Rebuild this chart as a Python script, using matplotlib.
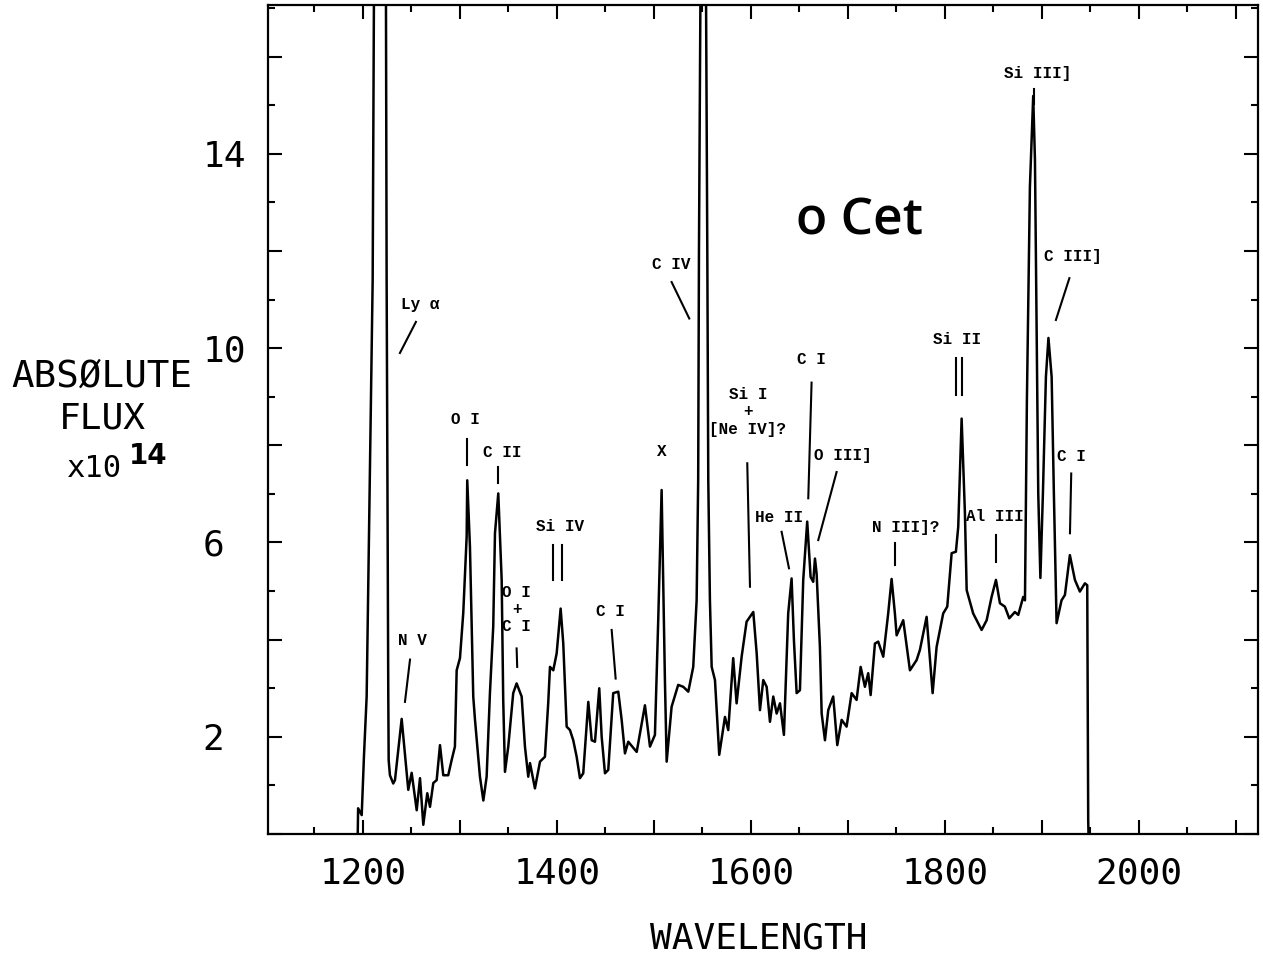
import matplotlib
matplotlib.use("Agg")
import matplotlib.pyplot as plt
from matplotlib.ticker import MultipleLocator, FixedLocator

# IUE spectrum of o Cet (wavelength in Angstrom, flux x 1e14)
wavelength = [1194.6, 1195.0, 1198.7, 1201.0, 1203.8, 1210.0, 1211.3, 1217.0, 1223.7, 1224.4,
              1226.1, 1226.5, 1227.8, 1231.2, 1233.0, 1239.9, 1245.0, 1246.7, 1250.2, 1255.4,
              1258.8, 1262.2, 1266.3, 1269.1, 1272.5, 1276.0, 1279.4, 1282.8, 1287.9, 1291.4,
              1294.8, 1296.6, 1300.0, 1303.4, 1306.9, 1307.5, 1310.3, 1313.7, 1315.5, 1320.6,
              1324.1, 1327.5, 1330.9, 1334.3, 1336.1, 1339.5, 1343.0, 1344.6, 1346.4, 1349.8,
              1354.9, 1358.4, 1363.6, 1367.0, 1370.4, 1372.2, 1377.3, 1382.5, 1387.6, 1391.0,
              1392.8, 1396.2, 1399.7, 1403.8, 1406.5, 1410.0, 1413.4, 1416.8, 1420.3, 1423.7,
              1427.1, 1432.3, 1435.8, 1439.2, 1443.6, 1446.1, 1449.5, 1452.9, 1458.0, 1463.2,
              1466.7, 1470.1, 1473.5, 1482.2, 1490.7, 1495.9, 1501.0, 1504.4, 1507.9, 1511.3,
              1513.1, 1518.2, 1525.0, 1530.2, 1535.4, 1540.5, 1544.0, 1545.6, 1546.4, 1547.9,
              1550.8, 1553.7, 1555.0, 1556.0, 1557.7, 1559.5, 1562.9, 1567.3, 1573.2, 1576.6,
              1581.7, 1585.2, 1590.4, 1595.5, 1602.4, 1605.9, 1609.3, 1612.7, 1616.2, 1619.6,
              1623.0, 1626.5, 1629.9, 1634.0, 1638.4, 1641.9, 1644.3, 1647.1, 1650.5, 1653.9,
              1658.0, 1661.5, 1664.2, 1666.0, 1667.7, 1671.1, 1672.9, 1676.3, 1679.7, 1684.8,
              1689.0, 1693.5, 1698.6, 1703.8, 1708.9, 1713.1, 1717.5, 1720.9, 1723.4, 1727.8,
              1731.2, 1736.4, 1741.5, 1745.0, 1748.4, 1750.2, 1757.0, 1763.9, 1770.8, 1774.2,
              1781.1, 1787.3, 1791.4, 1798.2, 1802.4, 1806.9, 1811.3, 1813.7, 1817.2, 1820.6,
              1822.4, 1829.1, 1837.8, 1843.0, 1848.1, 1852.6, 1856.7, 1861.8, 1866.3, 1872.1,
              1875.6, 1880.7, 1882.5, 1884.5, 1887.6, 1891.0, 1892.8, 1894.5, 1896.2, 1898.4,
              1901.0, 1904.1, 1906.7, 1910.0, 1912.3, 1915.1, 1920.2, 1923.7, 1928.8, 1934.0,
              1939.1, 1944.3, 1946.7, 1947.7, 1948.0]
flux = [0.00, 0.53, 0.39, 1.59, 2.83, 11.4, 17.2, 30.0, 17.2, 11.4,
        2.83, 1.52, 1.21, 1.04, 1.11, 2.37, 1.26, 0.91, 1.26, 0.49,
        1.15, 0.19, 0.84, 0.56, 1.05, 1.11, 1.83, 1.21, 1.21, 1.52,
        1.80, 3.37, 3.62, 4.55, 6.12, 7.28, 5.91, 2.83, 2.35, 1.18,
        0.69, 1.18, 2.90, 4.27, 6.19, 7.01, 5.23, 2.76, 1.28, 1.80,
        2.90, 3.10, 2.83, 1.80, 1.18, 1.46, 0.94, 1.49, 1.59, 2.70,
        3.44, 3.37, 3.72, 4.64, 3.92, 2.21, 2.14, 1.93, 1.59, 1.15,
        1.25, 2.72, 1.93, 1.90, 3.00, 2.00, 1.25, 1.32, 2.90, 2.93,
        2.35, 1.66, 1.90, 1.69, 2.65, 1.80, 2.04, 4.40, 7.08, 3.17,
        1.49, 2.62, 3.07, 3.03, 2.93, 3.44, 4.81, 7.28, 12.0, 17.2,
        30.0, 17.2, 12.0, 7.28, 4.81, 3.44, 3.17, 1.63, 2.41, 2.14,
        3.62, 2.69, 3.65, 4.37, 4.57, 3.72, 2.55, 3.17, 3.03, 2.31,
        2.83, 2.48, 2.69, 2.04, 4.54, 5.26, 3.99, 2.90, 2.96, 5.23,
        6.43, 5.29, 5.19, 5.67, 5.36, 3.85, 2.48, 1.93, 2.55, 2.83,
        1.83, 2.35, 2.21, 2.90, 2.76, 3.44, 3.03, 3.31, 2.86, 3.92,
        3.96, 3.65, 4.54, 5.25, 4.54, 4.09, 4.40, 3.37, 3.58, 3.79,
        4.47, 2.90, 3.85, 4.54, 4.68, 5.78, 5.81, 6.32, 8.55, 6.60,
        5.02, 4.54, 4.20, 4.40, 4.88, 5.23, 4.75, 4.68, 4.44, 4.57,
        4.51, 4.88, 4.81, 8.93, 13.32, 15.19, 13.87, 10.44, 7.01, 5.27,
        7.01, 9.41, 10.21, 9.41, 7.02, 4.34, 4.81, 4.92, 5.74, 5.23,
        4.99, 5.16, 5.12, 0.29, 0.00]

# line identifications
line_ids = ["Ly α", "N V", "O I", "C II", "O I\n+\nC I", "Si IV", "C I", "X", "C IV",
            "Si I\n+\n[Ne IV]?", "He II", "C I", "O III]", "N III]?", "Si II", "Al III",
            "Si III]", "C III]", "C I"]
id_x = [1258.8, 1250.7, 1306.0, 1343.8, 1358.4, 1403.1, 1455.5, 1507.9, 1517.7,
        1596.9, 1629.1, 1662.2, 1695.0, 1760.0, 1812.9, 1851.0, 1895.3, 1931.9, 1930.6]
id_y = [10.90, 3.98, 8.53, 7.86, 4.62, 6.32, 4.59, 7.87, 11.72,
        8.69, 6.51, 9.77, 7.80, 6.31, 10.18, 6.53, 15.65, 11.89, 7.78]

# marker strokes pointing at the lines
mark_x0 = [1254.6, 1248.5, 1307.5, 1339.5, 1358.4, 1396.2, 1404.9, 1456.4, 1518.2, 1596.2,
           1631.6, 1662.5, 1688.3, 1748.4, 1811.0, 1817.8, 1852.2, 1891.7, 1928.3, 1930.2]
mark_y0 = [10.54, 3.59, 8.14, 7.56, 3.82, 5.95, 5.95, 4.20, 11.36, 7.63,
           6.22, 9.29, 7.45, 5.99, 9.79, 9.79, 6.15, 15.34, 11.44, 7.42]
mark_x1 = [1238.1, 1243.3, 1307.5, 1339.5, 1359.0, 1396.2, 1404.9, 1460.5, 1536.4, 1599.0,
           1639.2, 1659.1, 1669.4, 1748.4, 1811.0, 1817.8, 1852.2, 1891.7, 1914.4, 1928.9]
mark_y1 = [9.90, 2.72, 7.59, 7.22, 3.44, 5.23, 5.23, 3.20, 10.61, 5.09,
           5.47, 6.91, 6.05, 5.53, 9.03, 9.03, 5.60, 15.03, 10.58, 6.19]

x_labels = [1200, 1400, 1600, 1800, 2000]
y_labels = [2, 6, 10, 14]

plot_font = "DejaVu Sans Mono"
id_font = "Liberation Mono"

fig = plt.figure(figsize=(12.63, 9.59), dpi=100)
ax = fig.add_axes([0.2122, 0.1303, 0.7838, 0.8644])

ax.plot(wavelength, flux, color="black", lw=1.8)

for x0, y0, x1, y1 in zip(mark_x0, mark_y0, mark_x1, mark_y1):
    ax.plot([x0, x1], [y0, y1], color="black", lw=1.5)
for txt, x, y in zip(line_ids, id_x, id_y):
    ax.text(x, y, txt, ha="center", va="center", family=id_font, weight="bold",
            fontsize=11.5, linespacing=1.2)

ax.text(1712.4, 12.33, "o Cet", ha="center", va="baseline", family="Open Sans",
        fontsize=37, weight="semibold")

ax.set_xlim(1102.1, 2122.7)
ax.set_ylim(0, 17.06)

# ticks: long every 100 / 2, short every 50 / 1, labels every 200 / 4
ax.xaxis.set_major_locator(MultipleLocator(100))
ax.xaxis.set_minor_locator(MultipleLocator(50))
ax.xaxis.set_major_formatter(lambda v, pos: f"{int(round(v))}" if int(round(v)) in x_labels else "")
y_major = list(range(0, 18, 2))
ax.yaxis.set_major_locator(FixedLocator(y_major))
ax.yaxis.set_minor_locator(MultipleLocator(1))
ax.set_yticks(y_major, [str(v) if v in y_labels else "" for v in y_major])

ax.tick_params(which="both", direction="in", top=True, right=True, width=1.5)
ax.tick_params(which="major", length=10)
ax.tick_params(which="minor", length=5)
ax.tick_params(axis="x", labelsize=26, pad=16)
ax.tick_params(axis="y", labelsize=26, pad=47)
for lbl in ax.get_xticklabels() + ax.get_yticklabels():
    lbl.set_family(plot_font)
for lbl in ax.get_yticklabels():
    lbl.set_horizontalalignment("left")

for sp in ax.spines.values():
    sp.set_linewidth(1.6)

ax.set_xlabel("WAVELENGTH", family=plot_font, fontsize=26)
ax.xaxis.set_label_coords(0.496, -0.106)

fig.text(0.0808, 0.6069, "ABSØLUTE", ha="center", va="center", family=plot_font, fontsize=27)
fig.text(0.0808, 0.5641, "FLUX", ha="center", va="center", family=plot_font, fontsize=26)
fig.text(0.0745, 0.5115, "x10", ha="center", va="center", family=plot_font, fontsize=22)
fig.text(0.1170, 0.5250, "14", ha="center", va="center", family="DejaVu Sans",
         weight="bold", fontsize=20)

fig.savefig("out.png", dpi=100)
